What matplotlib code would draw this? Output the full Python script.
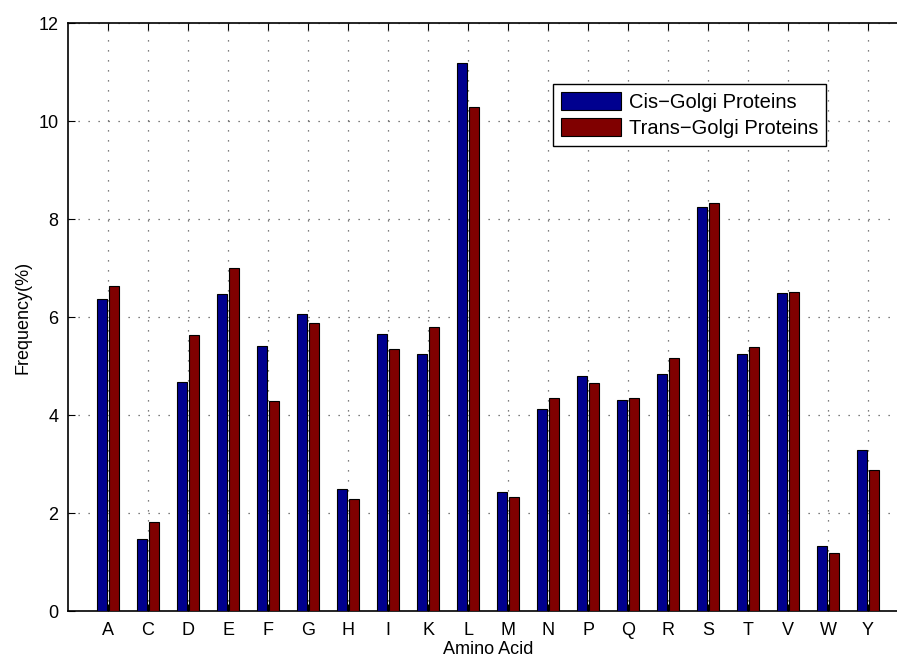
import numpy as np
import matplotlib
matplotlib.use('Agg')
import matplotlib.pyplot as plt

plt.rcParams['font.family'] = ['Liberation Sans', 'DejaVu Sans']

# amino acid frequencies
amino_acids = ['A', 'C', 'D', 'E', 'F', 'G', 'H', 'I', 'K', 'L',
               'M', 'N', 'P', 'Q', 'R', 'S', 'T', 'V', 'W', 'Y']
cis_golgi = [6.36, 1.46, 4.67, 6.46, 5.41, 6.07, 2.48, 5.66, 5.24, 11.19,
             2.43, 4.12, 4.79, 4.31, 4.83, 8.24, 5.25, 6.49, 1.32, 3.28]
trans_golgi = [6.64, 1.81, 5.63, 7.01, 4.28, 5.88, 2.29, 5.35, 5.79, 10.29,
               2.33, 4.34, 4.65, 4.34, 5.16, 8.32, 5.38, 6.52, 1.18, 2.87]
series_labels = ['Cis\u2212Golgi Proteins', 'Trans\u2212Golgi Proteins']

W, H = 897, 660
fig = plt.figure(figsize=(W / 100, H / 100), dpi=100)
ax = fig.add_axes([68 / W, 1 - 611 / H, 840 / W, 588 / H])

x = np.arange(1, len(amino_acids) + 1)
width = 0.24
ax.bar(x - 0.145, cis_golgi, width, color='#00008F', edgecolor='black',
       linewidth=0.8, label=series_labels[0], zorder=3)
ax.bar(x + 0.145, trans_golgi, width, color='#800000', edgecolor='black',
       linewidth=0.8, label=series_labels[1], zorder=3)

ax.set_xlim(0, 21)
ax.set_ylim(0, 12)
ax.set_xticks(x)
ax.set_xticklabels(amino_acids)
ax.set_yticks(range(0, 13, 2))
ax.tick_params(direction='in', labelsize=13, length=5, width=0.8,
               top=True, right=True)
ax.tick_params(axis='x', pad=8)
ax.tick_params(axis='y', pad=7)
ax.grid(True, linestyle=(0, (1, 7)), color='#555555', linewidth=0.9, zorder=0)
for s in ax.spines.values():
    s.set_linewidth(1.2)

ax.set_xlabel('Amino Acid', fontsize=13, labelpad=1)
ax.set_ylabel('Frequency(%)', fontsize=13, labelpad=5)

leg = ax.legend(loc='upper left', bbox_to_anchor=(553 / W, 1 - 84 / H),
                bbox_transform=fig.transFigure, fontsize=14.5, fancybox=False,
                framealpha=1, edgecolor='black', handlelength=3.0,
                handleheight=1.0, borderpad=0.4, labelspacing=0.3,
                handletextpad=0.35, borderaxespad=0)
leg.get_frame().set_linewidth(1.0)

fig.savefig('out.png', dpi=100)
